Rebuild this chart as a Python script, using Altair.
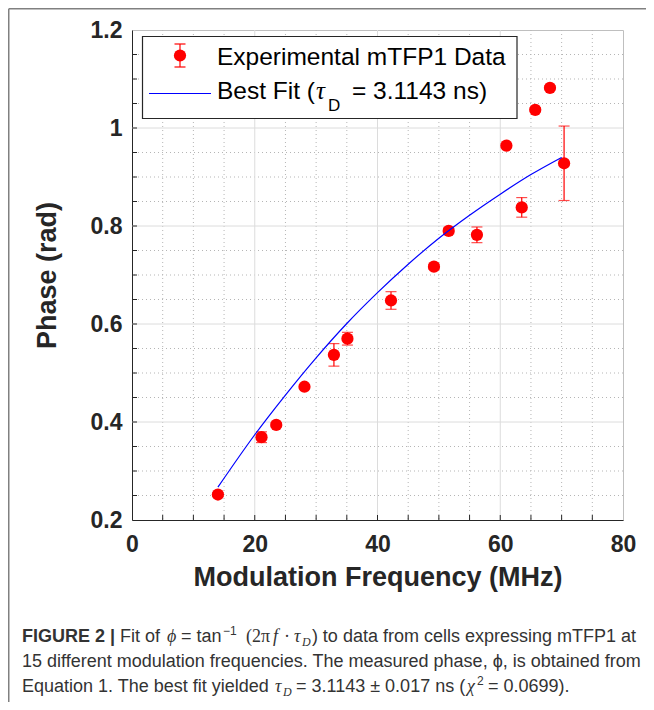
import altair as alt
import pandas as pd

# ---- data ----
freq = [14.0, 21.1, 23.5, 28.1, 32.9, 35.1, 42.2, 49.2, 51.6, 56.2, 61.0, 63.5, 65.7, 68.1, 70.4]
phase = [0.252, 0.369, 0.394, 0.472, 0.537, 0.570, 0.648, 0.717, 0.790, 0.782, 0.964, 0.838, 1.037, 1.082, 0.928]
err = [0.004, 0.011, 0.004, 0.004, 0.023, 0.013, 0.018, 0.005, 0.006, 0.016, 0.004, 0.020, 0.004, 0.004, 0.076]

fit_freq = [14, 20, 25, 30, 35, 40, 45, 50, 55, 60, 65, 70]
fit_phase = [0.267, 0.374, 0.455, 0.531, 0.601, 0.664, 0.722, 0.775, 0.822, 0.865, 0.905, 0.940]

x_major = [0, 20, 40, 60, 80]
y_major = [0.2, 0.4, 0.6, 0.8, 1.0, 1.2]
x_minor = [5, 10, 15, 25, 30, 35, 45, 50, 55, 65, 70, 75]
y_minor = [0.25, 0.3, 0.35, 0.45, 0.5, 0.55, 0.65, 0.7, 0.75, 0.85, 0.9, 0.95, 1.05, 1.1, 1.15]

x_title = "Modulation Frequency (MHz)"
y_title = "Phase (rad)"
leg1 = "Experimental mTFP1 Data"

SANS = "Liberation Sans"
SERIF = "Liberation Serif"
INK = "#262626"
CAP = "#333333"

W, H = 491, 490
OX, OY = 132, 30  # page position of plot origin


def px(x):
    return x - OX


def py(y):
    return y - OY


pts = pd.DataFrame({"f": freq, "p": phase,
                    "lo": [p - e for p, e in zip(phase, err)],
                    "hi": [p + e for p, e in zip(phase, err)]})
fit = pd.DataFrame({"f": fit_freq, "p": fit_phase})
one = pd.DataFrame({"k": [0]})

xs = alt.Scale(domain=[0, 80], nice=False, zero=False)
ys = alt.Scale(domain=[0.2, 1.2], nice=False, zero=False)

xaxis = alt.Axis(title=x_title, values=x_major, format="d", grid=False, ticks=False,
                 domainColor=INK, domainWidth=1, labelFont=SANS, labelFontSize=23,
                 labelFontWeight="bold", labelColor=INK, labelPadding=13, labelFlush=False,
                 labelOverlap=False, titleFont=SANS, titleFontSize=27, titleFontWeight="bold",
                 titleColor=INK, titlePadding=8)
yaxis = alt.Axis(title=y_title, values=y_major, format="~g", grid=False, ticks=False,
                 domainColor=INK, domainWidth=1, labelFont=SANS, labelFontSize=23,
                 labelFontWeight="bold", labelColor=INK, labelPadding=10, labelOverlap=False,
                 titleFont=SANS, titleFontSize=27, titleFontWeight="bold", titleColor=INK,
                 titlePadding=29)


def X(field):
    return alt.X(field, type="quantitative", scale=xs, axis=xaxis)


def Y(field):
    return alt.Y(field, type="quantitative", scale=ys, axis=yaxis)


layers = []

# grid
gx_min = pd.DataFrame({"v": x_minor})
gy_min = pd.DataFrame({"v": y_minor})
gx_maj = pd.DataFrame({"v": x_major[1:-1]})
gy_maj = pd.DataFrame({"v": y_major[1:-1]})
layers.append(alt.Chart(gx_min).mark_rule(color="#b5b5b5", strokeWidth=1, strokeDash=[1, 3]).encode(x=X("v")))
layers.append(alt.Chart(gy_min).mark_rule(color="#b5b5b5", strokeWidth=1, strokeDash=[1, 3]).encode(y=Y("v")))
layers.append(alt.Chart(gx_maj).mark_rule(color="#dcdcdc", strokeWidth=1).encode(x=X("v")))
layers.append(alt.Chart(gy_maj).mark_rule(color="#dcdcdc", strokeWidth=1).encode(y=Y("v")))

# inward ticks
tx = pd.DataFrame({"v": x_major[1:-1] + x_minor})
ty = pd.DataFrame({"v": y_major[1:-1] + y_minor})
layers.append(alt.Chart(tx).mark_rule(color=INK, strokeWidth=1).encode(
    x=X("v"), y=alt.value(H), y2=alt.value(H - 5)))
layers.append(alt.Chart(ty).mark_rule(color=INK, strokeWidth=1).encode(
    y=Y("v"), x=alt.value(0), x2=alt.value(5)))

# error bars
layers.append(alt.Chart(pts).mark_rule(color="#ff0000", strokeWidth=1.2).encode(
    x=X("f"), y=Y("lo"), y2="hi"))
layers.append(alt.Chart(pts).mark_tick(color="#ff0000", orient="horizontal", size=11, thickness=1.2).encode(
    x=X("f"), y=Y("lo")))
layers.append(alt.Chart(pts).mark_tick(color="#ff0000", orient="horizontal", size=11, thickness=1.2).encode(
    x=X("f"), y=Y("hi")))
# points
layers.append(alt.Chart(pts).mark_circle(color="#ff0000", size=150, opacity=1).encode(
    x=X("f"), y=Y("p")))
# fit line
layers.append(alt.Chart(fit).mark_line(color="#0000ff", strokeWidth=1.2, interpolate="monotone").encode(
    x=X("f"), y=Y("p")))


def T(s, x, y, size, weight="normal", style="normal", font=SANS, align="left", color=CAP):
    return alt.Chart(one).mark_text(text=s, font=font, fontSize=size, fontWeight=weight,
                                    fontStyle=style, align=align, baseline="alphabetic",
                                    color=color).encode(x=alt.value(px(x)), y=alt.value(py(y)))


# legend
layers.append(alt.Chart(one).mark_rect(fill="white", stroke=INK, strokeWidth=1.2).encode(
    x=alt.value(px(142.5)), x2=alt.value(px(517)), y=alt.value(py(36.5)), y2=alt.value(py(118.5))))
layers.append(alt.Chart(one).mark_rule(color="#ff0000", strokeWidth=1.2).encode(
    x=alt.value(px(180)), y=alt.value(py(44)), y2=alt.value(py(67))))
layers.append(alt.Chart(one).mark_rule(color="#ff0000", strokeWidth=1.2).encode(
    x=alt.value(px(174.5)), x2=alt.value(px(185.5)), y=alt.value(py(44))))
layers.append(alt.Chart(one).mark_rule(color="#ff0000", strokeWidth=1.2).encode(
    x=alt.value(px(174.5)), x2=alt.value(px(185.5)), y=alt.value(py(67))))
layers.append(alt.Chart(one).mark_circle(color="#ff0000", size=150, opacity=1).encode(
    x=alt.value(px(180)), y=alt.value(py(55.5))))
layers.append(alt.Chart(one).mark_rule(color="#0000ff", strokeWidth=1.2).encode(
    x=alt.value(px(149)), x2=alt.value(px(211)), y=alt.value(py(93.5))))
layers.append(T(leg1, 217, 64.5, 24.5, color="#000000"))
layers.append(T("Best Fit (", 217, 98.5, 24.5, color="#000000"))
layers.append(T("τ", 316, 98.5, 25, style="italic", font=SERIF, color="#000000"))
layers.append(T("D", 328, 111, 17, color="#000000"))
layers.append(T("= 3.1143 ns)", 352, 98.5, 24.5, color="#000000"))

# caption
layers.append(T("FIGURE 2 |", 22, 642, 18, weight="bold"))
layers.append(T("Fit of", 120, 642, 18))
layers.append(T("ϕ", 167, 642, 18, style="italic", font=SERIF))
layers.append(T("= tan", 181, 642, 18))
layers.append(T("−1", 223, 635, 12))
layers.append(T("(2π", 246, 642, 18, font=SERIF))
layers.append(T("f", 273, 642, 18, style="italic", font=SERIF))
layers.append(T("·", 284, 642, 18, font=SERIF))
layers.append(T("τ", 294, 642, 18, style="italic", font=SERIF))
layers.append(T("D", 302, 646, 12, style="italic", font=SERIF))
layers.append(T(") to data from cells expressing mTFP1 at", 636, 642, 18, align="right"))
layers.append(T("15 different modulation frequencies. The measured phase, ϕ, is obtained from", 22, 667, 18))
layers.append(T("Equation 1. The best fit yielded", 22, 692, 18))
layers.append(T("τ", 275, 692, 18, style="italic", font=SERIF))
layers.append(T("D", 283, 696, 12, style="italic", font=SERIF))
layers.append(T("= 3.1143 ± 0.017 ns (", 296, 692, 18))
layers.append(T("χ", 467, 692, 18, style="italic", font=SERIF))
layers.append(T("2", 477, 685, 12))
layers.append(T("= 0.0699).", 488, 692, 18))

# figure frame (left and top)
layers.append(alt.Chart(one).mark_rule(color="#808080", strokeWidth=1.5).encode(
    x=alt.value(px(8.75)), y=alt.value(py(8.75)), y2=alt.value(py(702))))
layers.append(alt.Chart(one).mark_rule(color="#808080", strokeWidth=1.5).encode(
    x=alt.value(px(8.75)), x2=alt.value(px(646)), y=alt.value(py(8.75))))

chart = alt.layer(*layers).properties(
    width=W, height=H,
    autosize=alt.AutoSizeParams(type="none"),
    padding={"left": OX - 8, "top": OY - 8, "right": 654 - 16 - (OX - 8) - W, "bottom": 710 - 16 - (OY - 8) - H},
).configure_view(stroke="#bfbfbf", strokeWidth=1)

chart.save("out.html", embed_options={"renderer": "svg", "actions": False})
